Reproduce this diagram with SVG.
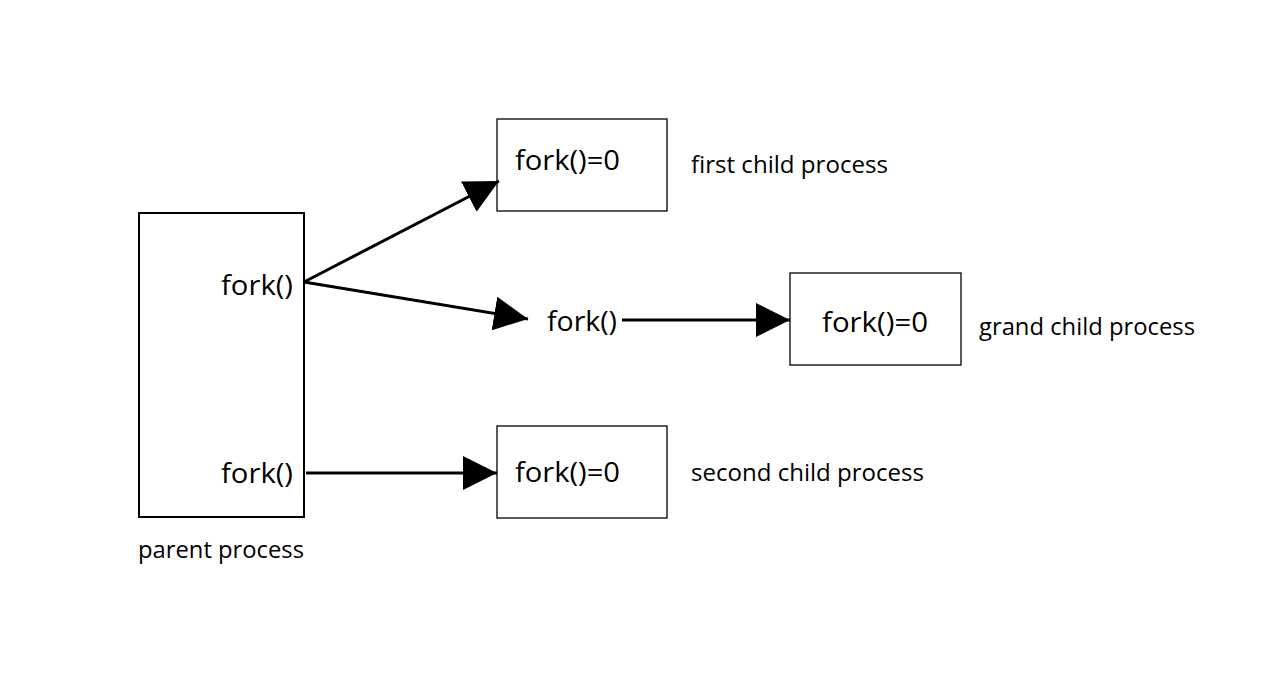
<svg xmlns="http://www.w3.org/2000/svg" width="1283" height="673" viewBox="0 0 1283 673">
<style>
.box{fill:#fff;stroke:#000;stroke-width:1.3}
.pbox{fill:#fff;stroke:#000;stroke-width:2}
.code{font-family:"Open Sans","Liberation Sans",sans-serif;font-size:28px;fill:#000}
.lbl{font-family:"Open Sans","Liberation Sans",sans-serif;font-size:23px;fill:#000}
.edge{stroke:#000;stroke-width:3;fill:none}
</style>
<defs>
<marker id="ah" viewBox="0 0 34 34" refX="34" refY="17" markerWidth="34" markerHeight="34" markerUnits="userSpaceOnUse" orient="auto">
<path d="M0,0 L34,17 L0,34 Z" fill="#000"/>
</marker>
</defs>
<rect width="1283" height="673" fill="#fff"/>
<g id="parent">
<rect class="pbox" x="139" y="213" width="165" height="304"/>
<text class="code" x="221" y="295" textLength="72" lengthAdjust="spacingAndGlyphs">fork()</text>
<text class="code" x="221" y="483" textLength="72" lengthAdjust="spacingAndGlyphs">fork()</text>
<text class="lbl" x="138" y="558" textLength="166" lengthAdjust="spacingAndGlyphs">parent process</text>
</g>
<g id="first-child">
<rect class="box" x="497" y="119" width="170" height="92"/>
<text class="code" x="515" y="170" textLength="105" lengthAdjust="spacingAndGlyphs">fork()=0</text>
<text class="lbl" x="691" y="173" textLength="197" lengthAdjust="spacingAndGlyphs">first child process</text>
</g>
<g id="middle-fork">
<text class="code" x="547" y="331" textLength="70" lengthAdjust="spacingAndGlyphs">fork()</text>
</g>
<g id="grand-child">
<rect class="box" x="790" y="273" width="171" height="92"/>
<text class="code" x="822" y="332" textLength="106" lengthAdjust="spacingAndGlyphs">fork()=0</text>
<text class="lbl" x="979" y="335" textLength="216" lengthAdjust="spacingAndGlyphs">grand child process</text>
</g>
<g id="second-child">
<rect class="box" x="497" y="426" width="170" height="92"/>
<text class="code" x="515" y="482" textLength="105" lengthAdjust="spacingAndGlyphs">fork()=0</text>
<text class="lbl" x="691" y="481" textLength="233" lengthAdjust="spacingAndGlyphs">second child process</text>
</g>
<g id="connectors">
<line class="edge" x1="304" y1="282" x2="499" y2="181" marker-end="url(#ah)"/>
<line class="edge" x1="304" y1="282" x2="528" y2="319" marker-end="url(#ah)"/>
<line class="edge" x1="622" y1="320" x2="790" y2="320" marker-end="url(#ah)"/>
<line class="edge" x1="306" y1="473" x2="497" y2="473" marker-end="url(#ah)"/>
</g>
</svg>
